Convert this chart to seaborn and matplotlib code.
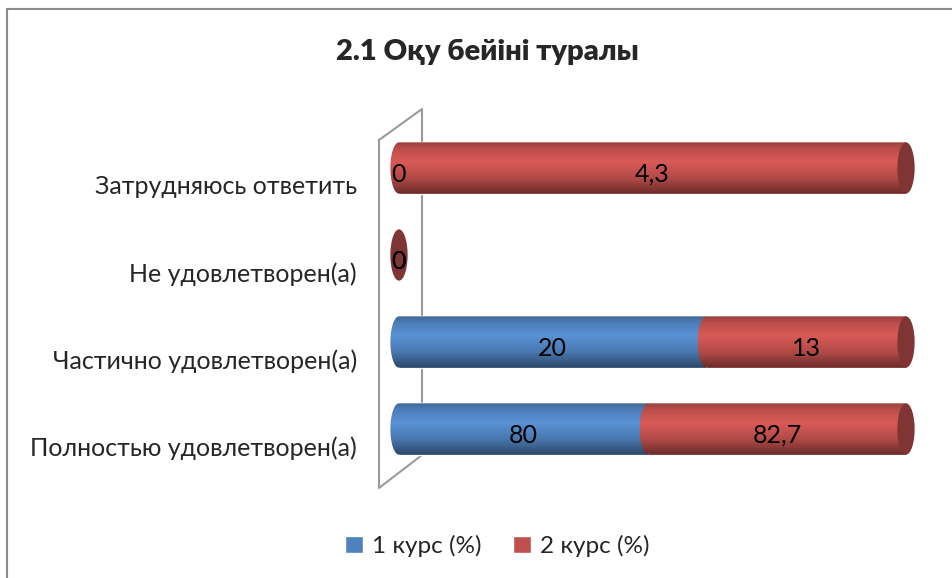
import numpy as np
import pandas as pd
import seaborn as sns
import matplotlib.pyplot as plt
import matplotlib.transforms as mtrans
from matplotlib.patches import Ellipse, PathPatch, Patch, Rectangle
from matplotlib.path import Path
from matplotlib.lines import Line2D
from matplotlib.colors import to_rgb

# chart data (top row first, as in the picture)
categories = ['Затрудняюсь ответить', 'Не удовлетворен(а)',
              'Частично удовлетворен(а)', 'Полностью удовлетворен(а)']
kurs_1 = [0, 0, 20, 80]
kurs_2 = [4.3, 0, 13, 82.7]
series_names = ['1 курс (%)', '2 курс (%)']
title = '2.1 Оқу бейіні туралы'

colors = ['#4F81BD', '#C0504D']

df = pd.DataFrame({'cat': categories, 'k1': kurs_1, 'k2': kurs_2})
total = (df.k1 + df.k2).replace(0, np.nan)
df['s1'] = (df.k1 / total * 100).fillna(0)
df['s2'] = (df.k2 / total * 100).fillna(0)

sns.set_theme(style='white')
plt.rcParams['font.family'] = ['Lato', 'DejaVu Sans']

W, H = 953, 578
px_per_unit = 5.07
fig = plt.figure(figsize=(W / 100, H / 100), dpi=100)
ax_left = 399 - 4 * px_per_unit
ax = fig.add_axes([ax_left / W, 1 - 472.5 / H, 108 * px_per_unit / W, 348 / H])
ax.set_facecolor('none')

bar_h = 0.59
sns.barplot(data=df, x='s1', y='cat', color=colors[0], width=bar_h, orient='h',
            errorbar=None, saturation=1, ax=ax, zorder=2)
sns.barplot(data=df, x='s2', y='cat', left=df.s1.tolist(), color=colors[1], width=bar_h,
            orient='h', errorbar=None, saturation=1, ax=ax, zorder=2)

# cylinder look: vertical shading, rounded front ends, dark end caps
tt = np.linspace(0, 1, 80)
shade = np.interp(tt, [0, 0.12, 0.38, 0.7, 1], [0.8, 0.97, 1.13, 0.92, 0.55])
ew = 3.4
z = 3
row_end = {}
filled = set()
for cont, col in zip(ax.containers, colors):
    base = np.array(to_rgb(col))
    img = np.clip(shade[:, None, None] * base[None, None, :], 0, 1)
    for rect in cont.patches:
        x0, y0, w, h = rect.get_x(), rect.get_y(), rect.get_width(), rect.get_height()
        yc = y0 + h / 2
        if w <= 0:
            if yc not in filled:
                row_end[yc] = (x0, col)
            continue
        x1 = x0 + w
        a, b = ew / 2, h / 2
        th = np.linspace(np.pi / 2, 3 * np.pi / 2, 40)
        verts = list(zip(x0 + a * np.cos(th), yc + b * np.sin(th)))
        verts += [(x1, yc - b), (x1, yc + b), (x0, yc + b)]
        clip = PathPatch(Path(verts, closed=True), transform=ax.transData,
                         facecolor='none', edgecolor='none')
        im = ax.imshow(img, extent=(x0 - a, x1, y0 + h, y0), origin='upper',
                       aspect='auto', zorder=z, interpolation='bilinear')
        im.set_clip_path(clip)
        row_end[yc] = (x1, col)
        filled.add(yc)
        z += 1

for yc, (xe, col) in row_end.items():
    cap = np.array(to_rgb(col)) * 0.66
    ax.add_patch(Ellipse((xe, yc), ew, bar_h, facecolor=cap, edgecolor='none', zorder=30))

def fmt(v):
    return f'{v:g}'.replace('.', ',')

for i, row in df.iterrows():
    left = 0
    for share, val in ((row.s1, row.k1), (row.s2, row.k2)):
        ax.text(left + share / 2, i + 0.07, fmt(val), ha='center', va='center',
                fontsize=18, color='black', zorder=40)
        left += share

ax.set_xlim(-4, 104)
ax.set_ylim(3.5, -0.5)
ax.set_xticks([])
ax.set_xlabel('')
ax.set_ylabel('')
for sp in ax.spines.values():
    sp.set_visible(False)
ax.tick_params(axis='y', length=0, pad=(ax_left - 357) * 0.72, labelsize=18)
offset = mtrans.ScaledTranslation(0, -0.17, fig.dpi_scale_trans)
for lab in ax.get_yticklabels():
    lab.set_transform(lab.get_transform() + offset)

# back wall of the 3d plot area
wall_x = np.array([379, 422, 422, 379, 379]) / W
wall_y = 1 - np.array([140, 109, 455, 488, 140]) / H
fig.add_artist(Line2D(wall_x, wall_y, color='#9a9a9a', lw=1.5, zorder=-1,
                      transform=fig.transFigure))

# chart area border (left and top visible)
fig.add_artist(Rectangle((7 / W, -0.2), 2, 1.2 - 9 / H, facecolor='none',
                         edgecolor='#8c8c8c', lw=1.5, transform=fig.transFigure, zorder=-2))

fig.text(487 / W, 1 - 52 / H, title, ha='center', va='center', fontsize=21,
         fontweight='heavy')

handles = [Patch(facecolor=c) for c in colors]
fig.legend(handles, series_names, loc='center', bbox_to_anchor=(497 / W, 1 - 546 / H),
           ncol=2, frameon=False, fontsize=17.5, handlelength=0.75, handleheight=0.75,
           handletextpad=0.35, columnspacing=1.3)

fig.savefig('out.png', dpi=100)
